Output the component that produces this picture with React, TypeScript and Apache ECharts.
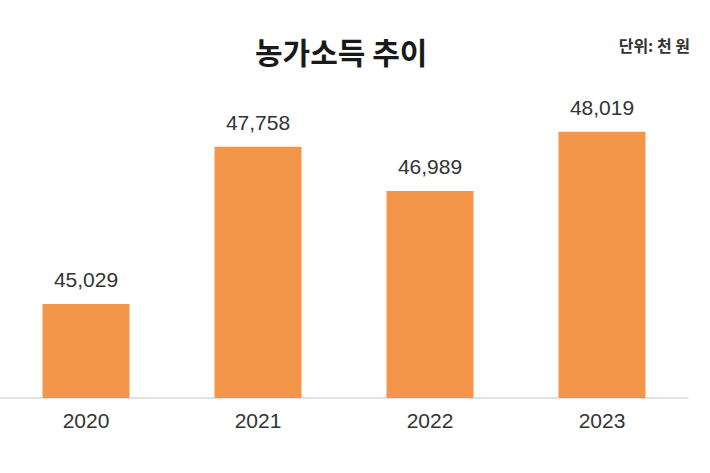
import React, { useEffect, useRef } from "react";
import * as echarts from "echarts";

const titleText = "농가소득 추이";
const unitText = "단위: 천 원";
const categories = ["2020", "2021", "2022", "2023"];
const incomeValues = [45029, 47758, 46989, 48019];

export default function App() {
  const ref = useRef<HTMLDivElement>(null);
  useEffect(() => {
    document.body.style.margin = "0";
    const chart = echarts.init(ref.current!, null, { renderer: "svg" });
    chart.setOption({
      animation: false,
      backgroundColor: "#ffffff",
      title: {
        text: titleText,
        left: 250,
        top: 31,
        textStyle: {
          fontFamily: "Noto Sans CJK KR",
          fontSize: 30,
          fontWeight: "bold",
          color: "#1a1a1a",
        },
      },
      graphic: [
        {
          type: "text",
          right: 20,
          top: 37,
          style: {
            text: unitText,
            fontFamily: "Noto Sans CJK KR",
            fontSize: 16,
            fontWeight: "bold",
            fill: "#333333",
          },
        },
      ],
      grid: { left: 0, width: 688, top: 104, bottom: 75, containLabel: false },
      xAxis: {
        type: "category",
        data: categories,
        axisTick: { show: false },
        axisLine: { show: true, lineStyle: { color: "#d9d9d9", width: 1.5 } },
        axisLabel: {
          margin: 12,
          fontFamily: "Liberation Sans",
          fontSize: 21,
          color: "#333333",
        },
      },
      yAxis: {
        type: "value",
        min: 43400,
        max: 48500,
        show: false,
        splitLine: { show: false },
      },
      series: [
        {
          type: "bar",
          data: incomeValues,
          barWidth: 87,
          itemStyle: { color: "#F4964A" },
          label: {
            show: true,
            position: "top",
            distance: 14,
            fontFamily: "Liberation Sans",
            fontSize: 21,
            color: "#333333",
            formatter: (p: any) => Number(p.value).toLocaleString("en-US"),
          },
        },
      ],
    });
    return () => chart.dispose();
  }, []);
  return <div ref={ref} style={{ width: 710, height: 473 }} />;
}
